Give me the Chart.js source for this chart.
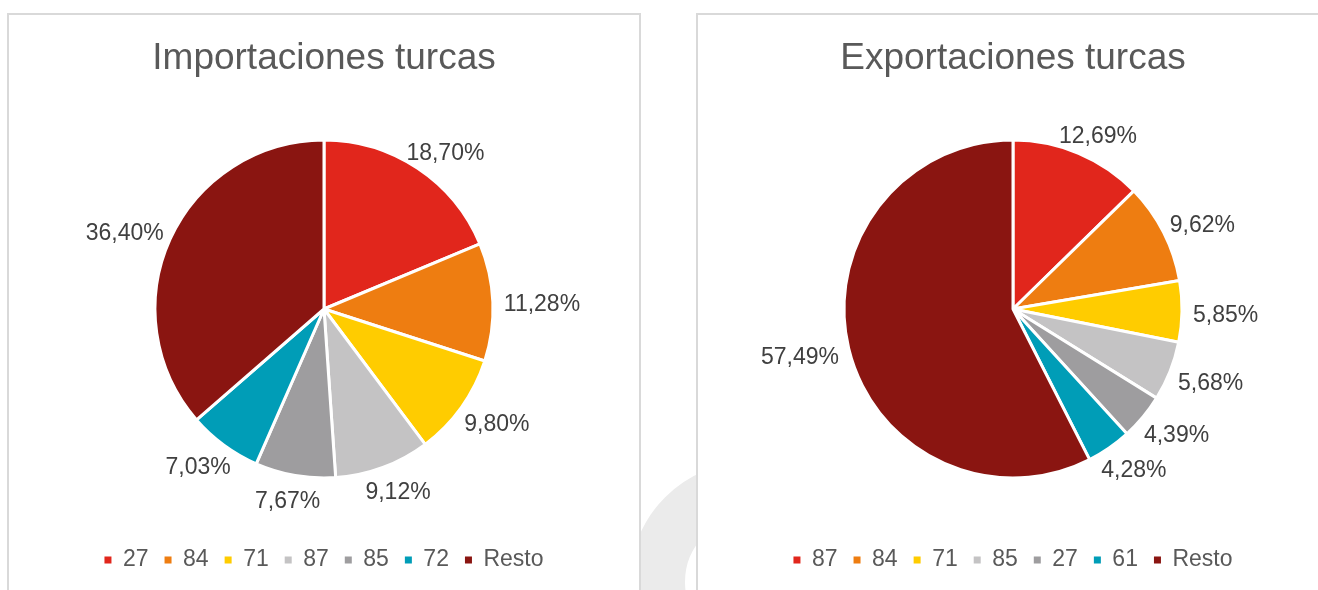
<!DOCTYPE html>
<html><head><meta charset="utf-8">
<script src="https://cdn.jsdelivr.net/npm/chart.js@4.4.0/dist/chart.umd.min.js"></script>
<style>
html,body{margin:0;padding:0;background:#fff;overflow:hidden;width:1318px;height:590px;position:relative}
.ring{position:absolute;left:630px;top:462px;width:240px;height:240px;box-sizing:border-box;border:55px solid #ebebeb;border-radius:50%}
.panel{position:absolute;top:13px;width:634px;height:620px;box-sizing:border-box;border:2px solid #d9d9d9;background:#fff}
#p1{left:7px}#p2{left:696px}
canvas{position:absolute;left:0;top:0}
</style></head><body>
<div class="ring"></div>
<div class="panel" id="p1"><canvas id="c1" width="630" height="575"></canvas></div>
<div class="panel" id="p2"><canvas id="c2" width="630" height="575"></canvas></div>
<script>
const importTitle = 'Importaciones turcas';
const importCategories = ['27', '84', '71', '87', '85', '72', 'Resto'];
const importValues = [18.70, 11.28, 9.80, 9.12, 7.67, 7.03, 36.40];

const exportTitle = 'Exportaciones turcas';
const exportCategories = ['87', '84', '71', '85', '27', '61', 'Resto'];
const exportValues = [12.69, 9.62, 5.85, 5.68, 4.39, 4.28, 57.49];

const sliceColors = ['#E1261C', '#EE7D11', '#FFCC00', '#C4C3C4', '#9E9D9F', '#009DB7', '#8A1511'];

const FONT = "'Liberation Sans', Arial, sans-serif";
Chart.defaults.font.family = FONT;

const outsideLabels = {
  id: 'outsideLabels',
  afterDatasetsDraw(chart) {
    const ctx = chart.ctx;
    const meta = chart.getDatasetMeta(0);
    const values = chart.data.datasets[0].data;
    ctx.save();
    ctx.font = '23px ' + FONT;
    ctx.fillStyle = '#404040';
    ctx.textAlign = 'center';
    ctx.textBaseline = 'middle';
    meta.data.forEach((arc, i) => {
      const p = arc.getProps(['x', 'y', 'startAngle', 'endAngle', 'outerRadius'], true);
      const mid = (p.startAngle + p.endAngle) / 2;
      const c = Math.cos(mid), s = Math.sin(mid);
      const text = values[i].toFixed(2).replace('.', ',') + '%';
      const w = ctx.measureText(text).width;
      const r = p.outerRadius + 11;
      ctx.fillText(text, p.x + c * r + c * w / 2, p.y + s * r + s * 11.5 + 4);
    });
    ctx.restore();
  }
};

function legendLabels(chart) {
  const items = Chart.overrides.pie.plugins.legend.labels.generateLabels(chart);
  return items.map(it => Object.assign(it, {lineWidth: 0, strokeStyle: it.fillStyle}));
}

function makePie(id, title, categories, values) {
  return new Chart(document.getElementById(id), {
    type: 'pie',
    data: {
      labels: categories,
      datasets: [{
        data: values,
        backgroundColor: sliceColors,
        borderColor: '#ffffff',
        borderWidth: 3,
        radius: 169
      }]
    },
    options: {
      responsive: false,
      animation: false,
      radius: 169,
      layout: {padding: {top: 0, bottom: 8.5, left: 0, right: 0}},
      plugins: {
        title: {
          display: true,
          text: title,
          color: '#595959',
          font: {family: FONT, size: 37, weight: 'normal'},
          padding: {top: 21.8, bottom: 4.3}
        },
        legend: {
          position: 'bottom',
          labels: {
            color: '#595959',
            font: {family: FONT, size: 23},
            boxWidth: 7,
            boxHeight: 7,
            padding: 16,
            generateLabels: legendLabels
          }
        },
        tooltip: {enabled: false}
      }
    },
    plugins: [outsideLabels]
  });
}

makePie('c1', importTitle, importCategories, importValues);
makePie('c2', exportTitle, exportCategories, exportValues);
</script>
</body></html>
